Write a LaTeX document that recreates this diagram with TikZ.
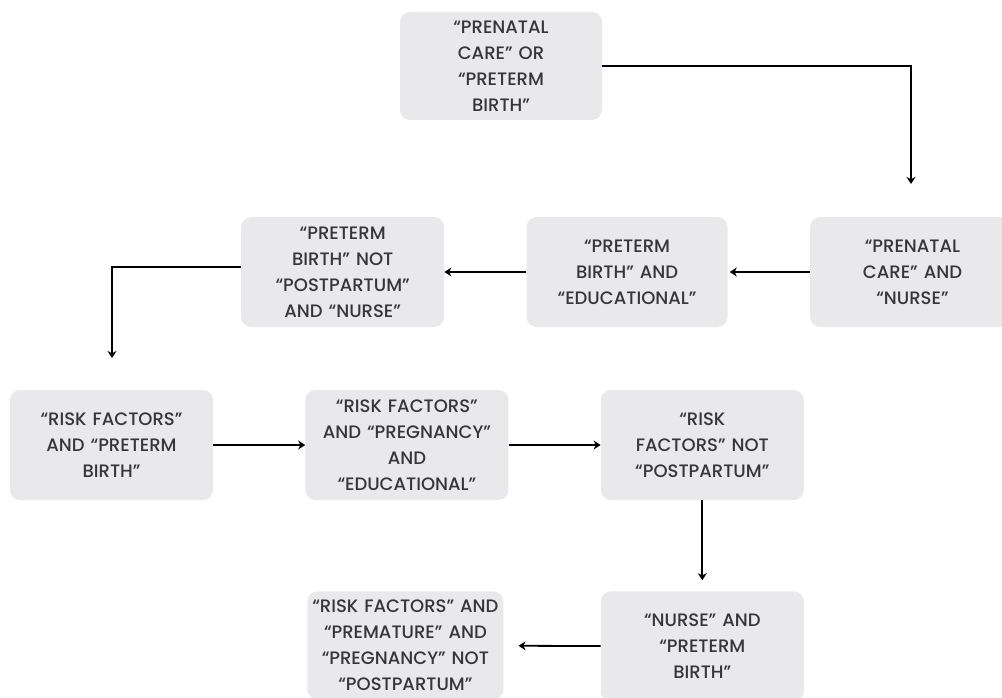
\documentclass[tikz,border=0pt]{standalone}
\usepackage{fontspec}
\setmainfont{Poppins}[UprightFont={* Medium}]
\usetikzlibrary{arrows.meta,positioning}
\definecolor{boxgray}{HTML}{E9E9EB}
\definecolor{textgray}{HTML}{363636}
\tikzset{
    %Define standard arrow tip
    >={Stealth[length=7pt,width=9pt]},
    %Define style for boxes
    kasten/.style={
           rectangle, rounded corners=10pt,
           fill=boxgray, draw=none,
           text=textgray, inner xsep=2pt,
           minimum width=203pt, minimum height=110pt,
           text width=195pt, align=center,
           font=\fontsize{18}{26}\selectfont},
    % Define arrow style
    pfeil/.style={
           ->,
           line width=1.8pt,}
}
\begin{document}
\begin{tikzpicture}[x=1pt, y=-1pt, node distance=92pt]
\useasboundingbox (0,0) rectangle (1002,698);
\clip (0,0) rectangle (1002,698);

%nodes
\node[kasten, minimum width=202pt, minimum height=108pt] (a) at (501,66) {“PRENATAL\\CARE” OR\\“PRETERM\\BIRTH”};
\node[kasten, minimum width=205pt] (b) at (912.5,272) {“PRENATAL\\CARE” AND\\“NURSE”};
\node[kasten, minimum width=201pt, left=82pt of b.west, anchor=east] (c) {“PRETERM\\BIRTH” AND\\“EDUCATIONAL”};
\node[kasten, left=82pt of c.west, anchor=east] (d) {“PRETERM\\BIRTH” NOT\\“POSTPARTUM”\\AND “NURSE”};
\node[kasten] (e) at (111.5,445) {“RISK FACTORS”\\AND “PRETERM\\BIRTH”};
\node[kasten, right=of e] (f) {“RISK FACTORS”\\AND “PREGNANCY”\\AND\\“EDUCATIONAL”};
\node[kasten, right=of f] (g) {“RISK\\FACTORS” NOT\\“POSTPARTUM”};
\node[kasten, below=91pt of g] (h) {“NURSE” AND\\“PRETERM\\BIRTH”};
\node[kasten, minimum width=196pt, text width=190pt, minimum height=108pt, left=97pt of h.north west, anchor=north east] (i) {“RISK FACTORS” AND\\“PREMATURE” AND\\“PREGNANCY” NOT\\“POSTPARTUM”};

%free ends
\coordinate (a-end) at (911,184);
\coordinate (d-end) at (112,358);

\draw [pfeil] (a.east) -| (a-end);
\draw [pfeil, shorten >=2pt] (b) -- (c);
\draw [pfeil] (c) -- (d);
\draw [pfeil] ([yshift=5pt]d.west) -| (d-end);
\draw [pfeil] (e) -- (f);
\draw [pfeil] (f) -- (g);
\draw [pfeil, shorten >=11pt] (g) -- (h);
\draw [pfeil, shorten >=15pt] (h) -- (i);

\end{tikzpicture}
\end{document}
